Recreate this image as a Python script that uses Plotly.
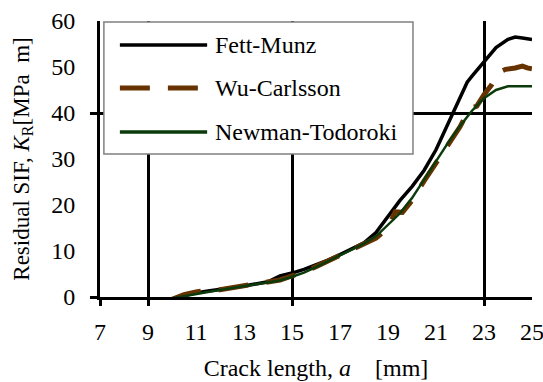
import plotly.graph_objects as go

# ---- data ----
fm_x = [10, 10.5, 11, 11.5, 12, 12.5, 13, 13.5, 14, 14.5, 15, 15.5, 16, 16.5, 17, 17.5, 18, 18.5, 19,
        19.5, 20, 20.5, 21, 21.5, 22, 22.3, 22.5, 23, 23.5, 24, 24.3, 24.6, 25]
fm_y = [-0.4, 0.3, 0.9, 1.3, 1.6, 2.0, 2.4, 2.8, 3.3, 4.6, 5.2, 6.0, 6.9, 8.0, 9.2, 10.5, 11.8, 14.0, 17.5,
        21.0, 24.0, 27.5, 32.0, 37.5, 43.0, 46.7, 48.0, 51.2, 54.2, 56.0, 56.5, 56.3, 56.0]

wc_x = [10, 10.5, 11, 11.5, 12, 12.5, 13, 13.5, 14, 14.5, 15, 15.5, 16, 16.5, 17, 17.5, 18, 18.5, 19,
        19.3, 19.6, 20, 20.5, 21, 21.5, 22, 22.4, 22.7, 23, 23.3, 23.6, 23.9, 24.3, 24.6, 24.8, 25]
wc_y = [-0.5, 0.5, 1.1, 1.5, 1.6, 2.0, 2.3, 2.8, 3.2, 3.7, 4.6, 5.4, 6.6, 7.9, 9.0, 10.3, 11.5, 12.8, 15.0,
        18.5, 18.4, 21.0, 25.2, 29.0, 33.0, 37.0, 41.0, 41.5, 44.0, 46.0, 48.8, 49.5, 49.8, 50.2, 49.8, 49.6]

nt_x = [10, 10.5, 11, 11.5, 12, 12.5, 13, 13.5, 14, 14.5, 15, 15.5, 16, 16.5, 17, 17.5, 18, 18.5, 19,
        19.5, 20, 20.5, 21, 21.5, 22, 22.5, 23, 23.5, 24, 25]
nt_y = [-0.3, 0.2, 0.7, 1.1, 1.5, 1.9, 2.3, 2.7, 3.1, 3.6, 4.4, 5.3, 6.5, 7.8, 9.0, 10.3, 11.6, 13.2, 15.6,
        18.2, 21.5, 25.5, 29.5, 33.5, 37.2, 40.5, 43.2, 45.0, 45.8, 45.8]

series_names = ["Fett-Munz", "Wu-Carlsson", "Newman-Todoroki"]
colors = ["#000000", "#663300", "#0b3b0b"]
widths = [3.5, 5, 2.5]
dashes = ["solid", "30px,18px", "solid"]

x_ticks = [7, 9, 11, 13, 15, 17, 19, 21, 23, 25]
y_ticks = [0, 10, 20, 30, 40, 50, 60]
x_grid = [7, 9, 15, 23]
y_grid = [0, 40]

FONT = "Liberation Serif"

fig = go.Figure()
for xs, ys, name, c, w, d in zip([fm_x, wc_x, nt_x], [fm_y, wc_y, nt_y], series_names, colors, widths, dashes):
    fig.add_trace(go.Scatter(x=xs, y=ys, name=name, mode="lines",
                             line=dict(color=c, width=w, dash=d), showlegend=False))

fig.update_layout(
    width=543, height=382,
    margin=dict(l=100, r=11, t=21, b=85, autoexpand=False),
    paper_bgcolor="white", plot_bgcolor="white",
    font=dict(family=FONT, size=24, color="black"),
    xaxis=dict(range=[7, 25], tickvals=x_ticks, ticks="outside", ticklen=11,
               tickcolor="rgba(0,0,0,0)", showgrid=False, zeroline=False, automargin=False,
               showline=True, linecolor="black", linewidth=3, ticklabeloverflow="allow",
               tickfont=dict(family=FONT, size=24),
               title=dict(text="Crack length, <i>a</i>    [mm]", standoff=16,
                          font=dict(family=FONT, size=24))),
    yaxis=dict(range=[0, 60], tickvals=y_ticks, ticks="outside", ticklen=17,
               tickcolor="rgba(0,0,0,0)", showgrid=False, zeroline=False, automargin=False,
               showline=True, linecolor="black", linewidth=3,
               tickfont=dict(family=FONT, size=24),
               title=dict(text="Residual SIF, <i>K</i><sub>R</sub>[MPa  m]", standoff=16,
                          font=dict(family=FONT, size=23))),
    xaxis2=dict(overlaying="x", matches="x", range=[7, 25], tickvals=x_grid,
                ticks="outside", ticklen=8, tickwidth=3, tickcolor="black", automargin=False,
                showticklabels=False, showgrid=True, gridcolor="black", gridwidth=3,
                zeroline=False, anchor="y"),
    yaxis2=dict(overlaying="y", matches="y", range=[0, 60], tickvals=y_grid,
                ticks="outside", ticklen=9, tickwidth=3, tickcolor="black", automargin=False,
                showticklabels=False, showgrid=True, gridcolor="black", gridwidth=3,
                zeroline=False, anchor="x"),
)
# invisible trace to make the overlay axes render
fig.add_trace(go.Scatter(x=[None], y=[None], xaxis="x2", yaxis="y2", showlegend=False,
                         hoverinfo="skip"))

# custom legend box
fig.add_shape(type="rect", xref="paper", yref="paper", x0=0.009, x1=0.7245, y0=0.518, y1=0.996,
              fillcolor="white", line=dict(color="#808080", width=1.5), layer="above")
row_y = [0.913, 0.757, 0.598]
for name, c, w, d, yy in zip(series_names, colors, widths, dashes, row_y):
    fig.add_shape(type="line", xref="paper", yref="paper", x0=0.046, x1=0.248, y0=yy, y1=yy,
                  line=dict(color=c, width=max(w, 3.5) if d == "solid" else 5, dash=d), layer="above")
    fig.add_annotation(xref="paper", yref="paper", x=0.262, y=yy, text=name, showarrow=False,
                       xanchor="left", yanchor="middle", font=dict(family=FONT, size=24, color="black"))

fig.write_html("out.html", config={"displayModeBar": False},
               post_script="document.body.style.margin='0';document.body.style.overflow='hidden';")
